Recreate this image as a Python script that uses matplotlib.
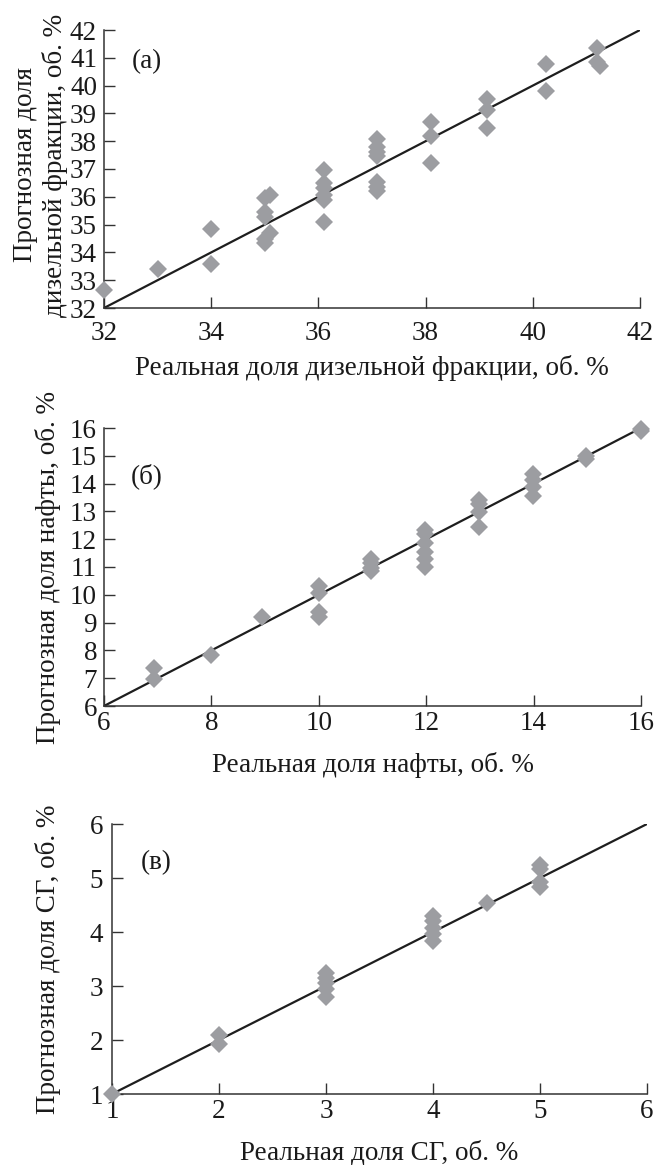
import matplotlib
matplotlib.use("Agg")
import matplotlib.pyplot as plt

# ---- data ----
diesel_real = [32.0, 33.0, 34.0, 34.0,
               35.0, 35.1, 35.0, 35.0, 35.1, 35.0, 35.0,
               36.1, 36.1, 36.1, 36.1, 36.1, 36.1,
               37.1, 37.1, 37.1, 37.1, 37.1, 37.1, 37.1,
               38.1, 38.1, 38.1,
               39.15, 39.15, 39.15,
               40.25, 40.25,
               41.2, 41.2, 41.25]
diesel_pred = [32.65, 33.4, 34.83, 33.58,
               35.95, 36.07, 35.45, 35.28, 34.7, 34.47, 34.35,
               36.98, 36.48, 36.3, 36.05, 35.9, 35.1,
               38.08, 37.8, 37.62, 37.45, 36.52, 36.37, 36.2,
               38.68, 38.18, 37.22,
               39.53, 39.13, 38.48,
               40.78, 39.79,
               41.34, 40.86, 40.69]

naphtha_real = [6.93, 6.93, 8.0, 8.95,
                10.0, 10.0, 10.0, 10.0,
                10.98, 10.98, 10.98, 10.98,
                11.98, 11.98, 11.98, 11.98, 11.98, 11.98,
                12.98, 12.98, 12.98, 12.98,
                13.98, 13.98, 13.98, 13.98,
                14.98, 14.98,
                16.0, 16.0]
naphtha_pred = [6.97, 7.36, 7.84, 9.19,
                10.31, 10.05, 9.39, 9.19,
                11.28, 11.15, 10.98, 10.85,
                12.34, 12.2, 11.87, 11.54, 11.27, 11.0,
                13.4, 13.25, 12.98, 12.44,
                14.33, 14.14, 13.87, 13.54,
                15.0, 14.89,
                15.96, 15.88]

sg_real = [1.0, 2.0, 2.0,
           3.0, 3.0, 3.0, 3.0, 3.0,
           4.0, 4.0, 4.0, 4.0, 4.0,
           4.5,
           5.0, 5.0, 5.0, 5.0]
sg_pred = [1.0, 2.1, 1.92,
           3.25, 3.15, 3.05, 2.94, 2.8,
           4.3, 4.2, 4.08, 3.96, 3.84,
           4.53,
           5.24, 5.17, 4.92, 4.84]

diesel_ticks = [32, 33, 34, 35, 36, 37, 38, 39, 40, 41, 42]
diesel_xticks = [32, 34, 36, 38, 40, 42]
naphtha_ticks = [6, 7, 8, 9, 10, 11, 12, 13, 14, 15, 16]
naphtha_xticks = [6, 8, 10, 12, 14, 16]
sg_ticks = [1, 2, 3, 4, 5, 6]

W, H = 656, 1165
plt.rcParams['font.family'] = ['Liberation Serif', 'DejaVu Serif']

fig = plt.figure(figsize=(W / 100, H / 100), dpi=100)

MARK = '#9c9da1'
LINE = '#1e1e1e'
SPINE = '#333333'
TXT = '#1a1a1a'
FS = 19.5


def make_axes(l, r, t, b):
    return fig.add_axes([l / W, (H - b) / H, (r - l) / W, (b - t) / H])


panels = [
    dict(box=(104, 640, 30, 308), x=diesel_real, y=diesel_pred, lim=(32, 42),
         xt=diesel_xticks, yt=diesel_ticks,
         xlabel='Реальная доля дизельной фракции, об. %',
         ylabel='Прогнозная доля\nдизельной фракции, об. %',
         ylab_x=41, ylab_y=165, xlab_y=368, tag='(а)', tag_xy=(147, 62),
         xpad=9.5, ypad=5),
    dict(box=(104, 641, 428, 706), x=naphtha_real, y=naphtha_pred, lim=(6, 16),
         xt=naphtha_xticks, yt=naphtha_ticks,
         xlabel='Реальная доля нафты, об. %',
         ylabel='Прогнозная доля нафты, об. %',
         ylab_x=48, ylab_y=567, xlab_y=765, tag='(б)', tag_xy=(147, 476),
         xpad=3.5, ypad=5),
    dict(box=(112, 647, 824, 1094), x=sg_real, y=sg_pred, lim=(1, 6),
         xt=sg_ticks, yt=sg_ticks,
         xlabel='Реальная доля СГ, об. %',
         ylabel='Прогнозная доля СГ, об. %',
         ylab_x=48, ylab_y=959, xlab_y=1153, tag='(в)', tag_xy=(156, 863),
         xpad=3.7, ypad=6.5),
]

for p in panels:
    l, r, t, b = p['box']
    ax = make_axes(l, r, t, b)
    lo, hi = p['lim']
    ax.plot([lo, hi], [lo, hi], color=LINE, lw=1.6, zorder=2, solid_capstyle='butt')
    ax.plot(p['x'], p['y'], linestyle='none', marker='D', markersize=8.9,
            color=MARK, markeredgewidth=0, zorder=3, clip_on=False)
    ax.set_xlim(lo, hi)
    ax.set_ylim(lo, hi)
    ax.set_xticks(p['xt'])
    ax.set_yticks(p['yt'])
    for s in ('top', 'right'):
        ax.spines[s].set_visible(False)
    for s in ('left', 'bottom'):
        ax.spines[s].set_color(SPINE)
        ax.spines[s].set_linewidth(1.1)
    ax.tick_params(axis='both', direction='in', length=8, width=1.0,
                   colors=SPINE, labelcolor=TXT, labelsize=FS)
    ax.tick_params(axis='x', pad=p['xpad'])
    ax.tick_params(axis='y', pad=p['ypad'])
    ax.set_xlabel(p['xlabel'], fontsize=FS, color=TXT)
    ax.xaxis.label.set_va('center')
    ax.xaxis.set_label_coords(((l + r) / 2 - l) / (r - l), (b - p['xlab_y']) / (b - t))
    ax.set_ylabel(p['ylabel'], fontsize=FS, color=TXT, linespacing=1.2)
    ax.yaxis.label.set_va('center')
    ax.yaxis.set_label_coords((p['ylab_x'] - l) / (r - l), (b - p['ylab_y']) / (b - t))
    tx, ty = p['tag_xy']
    ax.text((tx - l) / (r - l), (b - ty) / (b - t), p['tag'], transform=ax.transAxes,
            fontsize=FS, ha='center', va='center', color=TXT)

fig.savefig('out.png', dpi=100)
